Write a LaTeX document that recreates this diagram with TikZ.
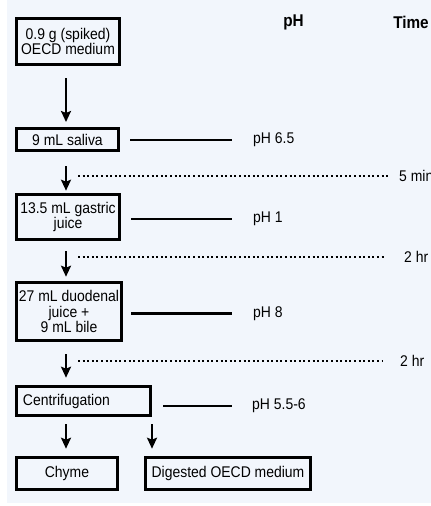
\documentclass[tikz,border=0pt]{standalone}
\usepackage{fontspec}
\setmainfont[FakeStretch=0.9]{Liberation Sans}
\usepackage{tikz}
\usetikzlibrary{arrows.meta, positioning, calc}
\definecolor{Ink}{HTML}{000000}
\definecolor{Paper}{HTML}{F2F6FC}

\begin{document}
\begin{tikzpicture}[
  x=1pt, y=-1pt,
  font=\fontsize{15.5}{15.5}\selectfont,
  box/.style={draw=Ink, line width=2.6pt, align=center, inner sep=1pt},
  arrow/.style={-{Stealth[length=11pt, width=10pt, inset=2pt]}, line width=2.6pt, draw=Ink},
  link/.style={line width=2.6pt, draw=Ink},
  wait/.style={line width=2pt, draw=Ink, dash pattern=on 2pt off 2.6pt},
  phtext/.style={anchor=west, inner sep=0pt},
  colhead/.style={font=\fontsize{17}{18}\selectfont\bfseries, inner sep=0pt}
]
\useasboundingbox (0,0) rectangle (431,506);
\fill[Paper] (7,0) rectangle (431,503);

% column heads
\node[colhead] (phhead) at (293.5,22) {pH};
\node[colhead] (timehead) at (411,22) {Time};

% steps
\node[box, minimum width=103.4pt, minimum height=46.4pt] (medium) at (68,41.5) {0.9 g (spiked)\\OECD medium};
\node[box, minimum width=102.4pt, minimum height=22.4pt] (saliva) at (67.5,139.5) {9 mL saliva};
\node[box, minimum width=103.4pt, minimum height=45.4pt] (gastric) at (68,217) {13.5 mL gastric\\juice};
\node[box, minimum width=105.4pt, minimum height=58.4pt] (duodenal) at (69,311.5) {27 mL duodenal\\juice +\\9 mL bile};
\node[box, text width=121pt, inner xsep=6.7pt, minimum height=29.4pt, align=left] (centri) at (83.5,401) {Centrifugation};
\node[box, minimum width=101.4pt, minimum height=32.4pt] (chyme) at (67,473.5) {Chyme};
\node[box, minimum width=165.4pt, minimum height=32.4pt] (digested) at (228,473.5) {Digested OECD medium};

% pH values
\node[phtext] (ph1) at (253,140) {pH 6.5};
\node[phtext] (ph2) at (253,219) {pH 1};
\node[phtext] (ph3) at (253,313.5) {pH 8};
\node[phtext] (ph4) at (252,406) {pH 5.5-6};

% times
\node[phtext] (t1) at (399,176) {5 min};
\node[phtext] (t2) at (404,257) {2 hr};
\node[phtext] (t3) at (400,361) {2 hr};
\coordinate (col) at (66,0);
\coordinate (d1) at (78,176);
\coordinate (d2) at (78,257);
\coordinate (d3) at (78,361);

\draw[arrow, shorten <=12pt, shorten >=5pt] (medium.south -| col) -- (saliva.north -| col);
\draw[arrow, shorten <=14pt, shorten >=2.3pt] (saliva.south -| col) -- (gastric.north -| col);
\draw[arrow, shorten <=10pt, shorten >=4.3pt] (gastric.south -| col) -- (duodenal.north -| col);
\draw[arrow, shorten <=12pt, shorten >=7.3pt] (duodenal.south -| col) -- (centri.north -| col);
\draw[arrow, shorten <=7pt, shorten >=7.3pt] (centri.south -| col) -- (chyme.north -| col);
\draw[arrow, shorten <=7pt, shorten >=7.3pt] (centri.south east) -- (centri.south east |- digested.north);

\draw[link, shorten <=10pt, shorten >=21pt] (saliva.east |- ph1.west) -- (ph1.west);
\draw[link, shorten <=10pt, shorten >=21pt] (gastric.east |- ph2.west) -- (ph2.west);
\draw[link, shorten <=8.3pt, shorten >=21pt] (duodenal.east |- ph3.west) -- (ph3.west);
\draw[link, shorten <=11pt, shorten >=20pt] (centri.east |- ph4.west) -- (ph4.west);

\draw[wait, shorten >=11pt] (d1) -- (t1.west);
\draw[wait, shorten >=19pt] (d2) -- (t2.west);
\draw[wait, shorten >=17pt] (d3) -- (t3.west);
\end{tikzpicture}
\end{document}
